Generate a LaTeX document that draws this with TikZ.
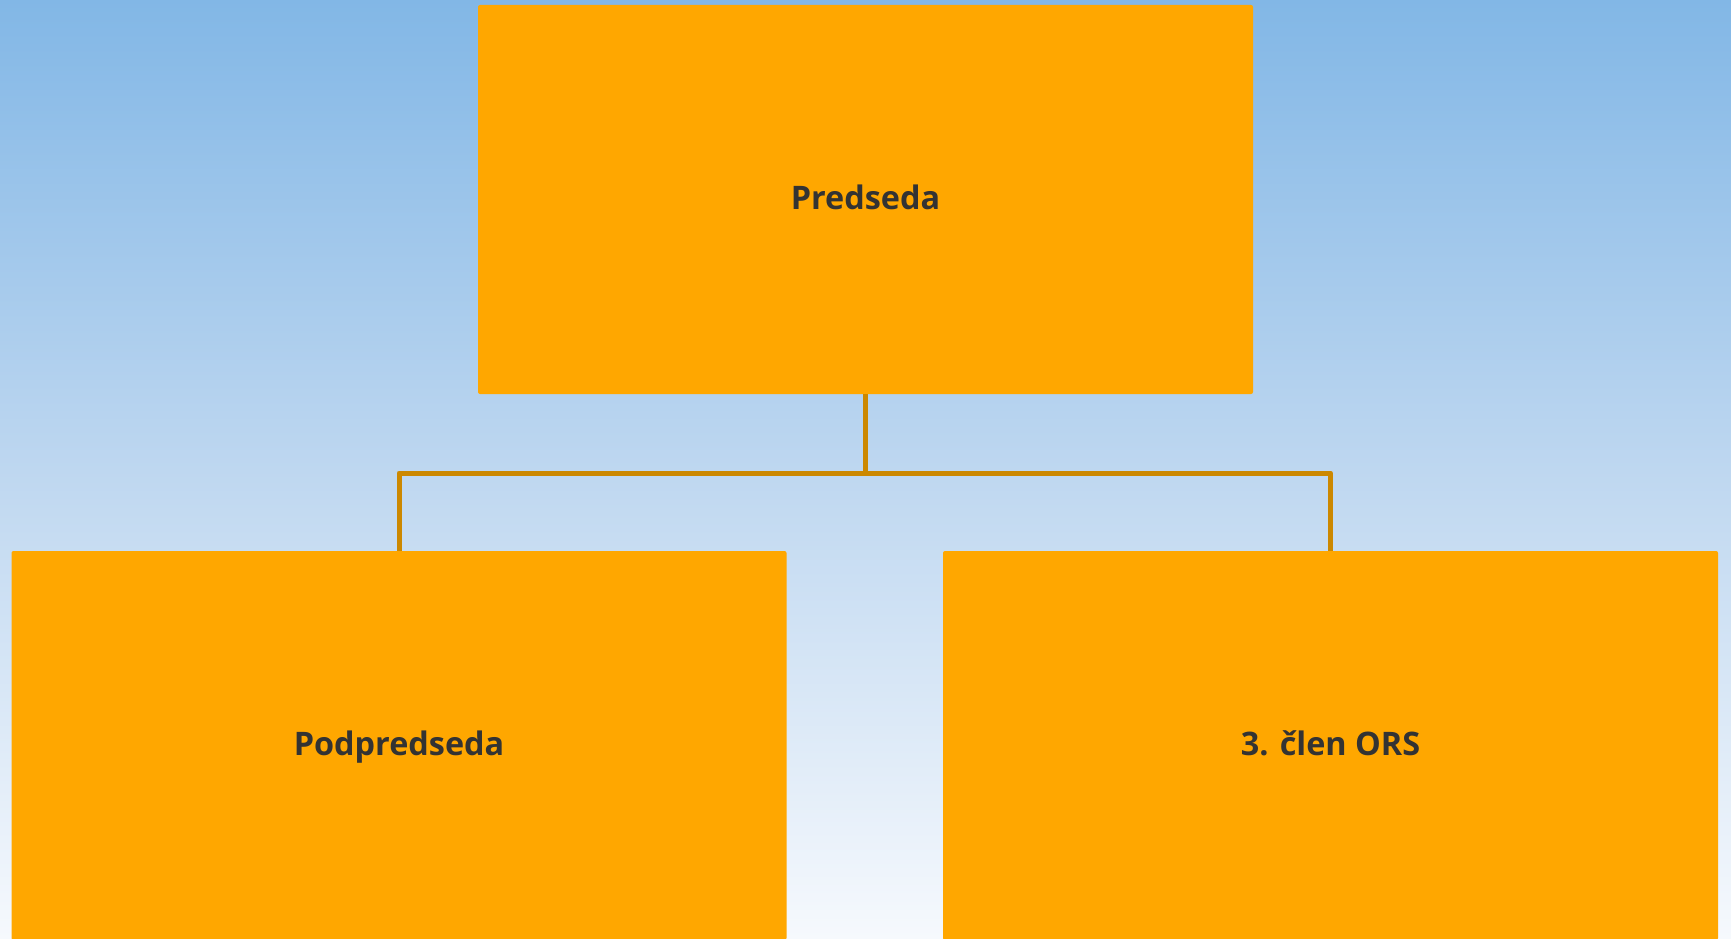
\documentclass[tikz,border=0pt]{standalone}
\usepackage{fontspec}
\setmainfont{Open Sans}
\definecolor{bgtop}{HTML}{82B7E6}
\definecolor{bgmid}{HTML}{BED7F0}
\definecolor{bgbot}{HTML}{F6F9FD}
\definecolor{boxfill}{HTML}{FFA700}
\definecolor{linecol}{HTML}{CC8800}
\definecolor{textcol}{HTML}{333333}
\begin{document}
\begin{tikzpicture}[x=1pt,y=-1pt,
  orgbox/.style={draw=none,fill=boxfill,rounded corners=2pt,minimum width=775pt,minimum height=389pt,inner sep=0pt,
    text height=24pt,text depth=4pt,
    font=\fontsize{32.4}{38}\selectfont\bfseries,text=textcol},
  conn/.style={draw=linecol,line width=5pt}]
\shade[top color=bgtop,bottom color=bgbot,middle color=bgmid] (0,0) rectangle (1731,939);
\useasboundingbox (0,0) rectangle (1731,939);
\node[orgbox] (top) at (865.5,199.5) {Predseda};
\node[orgbox] (left) at (399,745.5) {Podpredseda};
\node[orgbox] (right) at (1330.5,745.5) {3. člen ORS};
\coordinate (j) at (865.5,473);
\draw[conn] (top.south) -- (j);
\draw[conn,line join=round] (left.north) |- (j) -| (right.north);
\end{tikzpicture}
\end{document}
